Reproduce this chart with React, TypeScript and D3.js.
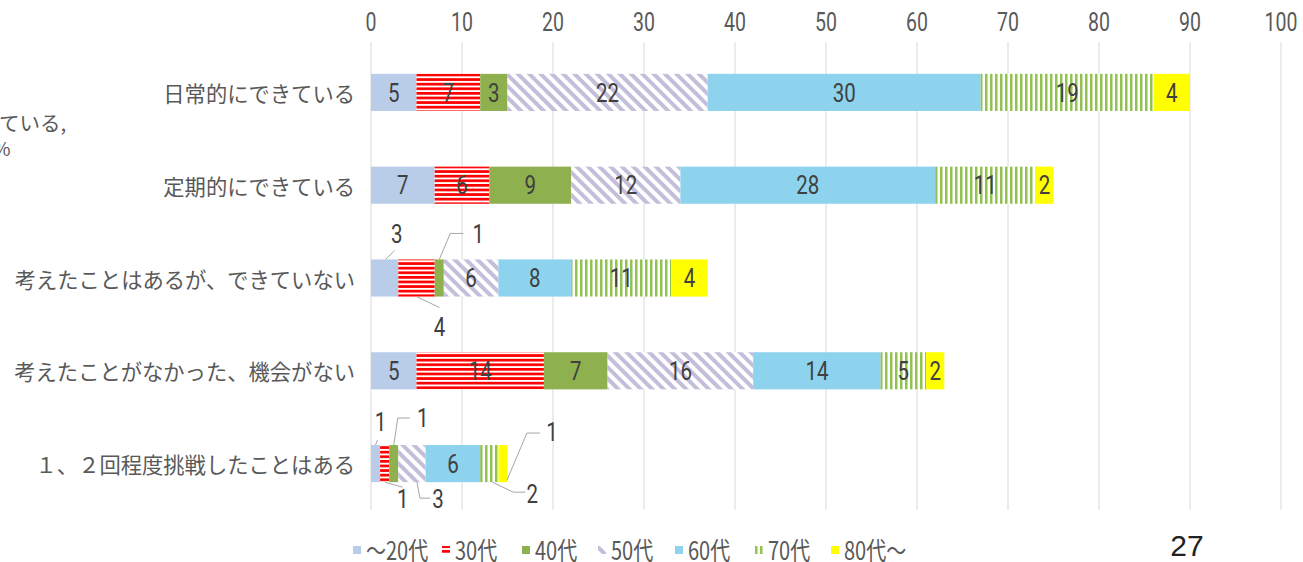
import React from "react";
import * as d3 from "d3";

const categories = [
  "日常的にできている",
  "定期的にできている",
  "考えたことはあるが、できていない",
  "考えたことがなかった、機会がない",
  "１、２回程度挑戦したことはある",
];
const seriesNames = ["～20代", "30代", "40代", "50代", "60代", "70代", "80代～"];
const age20 = [5, 7, 3, 5, 1];
const age30 = [7, 6, 4, 14, 1];
const age40 = [3, 9, 1, 7, 1];
const age50 = [22, 12, 6, 16, 3];
const age60 = [30, 28, 8, 14, 6];
const age70 = [19, 11, 11, 5, 2];
const age80 = [4, 2, 4, 2, 1];
const xTicks = [0, 10, 20, 30, 40, 50, 60, 70, 80, 90, 100];
const pageNumber = "27";

const seriesValues = [age20, age30, age40, age50, age60, age70, age80];
const fills = [
  "#B9CDE9",
  "url(#p30)",
  "#8FB04E",
  "url(#p50)",
  "#8DD3EE",
  "url(#p70)",
  "#FFFF00",
];

type Ext = { row: number; s: number; lead: [number, number, "t" | "b"][]; lx: number; ly: number; ref: "t" | "b" };
const externals: Ext[] = [
  { row: 2, s: 0, lead: [[1, 0, "t"], [10, -9, "t"]], lx: 12, ly: -25, ref: "t" },
  { row: 2, s: 2, lead: [[0, 0, "t"], [11, -26, "t"], [24, -26, "t"]], lx: 39, ly: -25, ref: "t" },
  { row: 2, s: 1, lead: [[0, 0, "b"], [23, 11, "b"]], lx: 23, ly: 31, ref: "b" },
  { row: 4, s: 0, lead: [[0, 0, "t"], [2, -5, "t"]], lx: 5, ly: -22, ref: "t" },
  { row: 4, s: 2, lead: [[0, 0, "t"], [4, -27, "t"], [16, -27, "t"]], lx: 29, ly: -26, ref: "t" },
  { row: 4, s: 1, lead: [[0, 0, "b"], [18, 5, "b"]], lx: 18, ly: 18, ref: "b" },
  { row: 4, s: 3, lead: [[5, 0, "b"], [8, 16, "b"], [18, 16, "b"]], lx: 26, ly: 18, ref: "b" },
  { row: 4, s: 5, lead: [[3, 0, "b"], [24, 10, "b"], [36, 10, "b"]], lx: 43, ly: 13, ref: "b" },
  { row: 4, s: 6, lead: [[4, -2, "b"], [24, -12, "t"], [37, -12, "t"]], lx: 49, ly: -12, ref: "t" },
];

const TXT = "#595959";
const NUMFONT = "Roboto, 'Liberation Sans', sans-serif";
const JPFONT = "'Noto Sans CJK JP', sans-serif";

function Num({ x, y, text, size = 24, sx = 0.82, fill = TXT, anchor = "middle" }: any) {
  return (
    <text
      transform={`translate(${x},${y}) scale(${sx},1)`}
      textAnchor={anchor}
      dominantBaseline="central"
      fontFamily={NUMFONT}
      fontSize={size}
      fill={fill}
    >
      {text}
    </text>
  );
}

export default function App() {
  const W = 1303;
  const H = 562;
  const x = d3.scaleLinear().domain([0, 100]).range([371, 1281]);
  const y = d3.scaleBand<string>().domain(categories).range([46, 510]).paddingInner(0.6).paddingOuter(0.3);
  const bw = y.bandwidth();

  const stacked = categories.map((c, i) => {
    let acc = 0;
    return seriesValues.map((vals, s) => {
      const v = vals[i];
      const seg = { s, v, x0: acc, x1: acc + v };
      acc += v;
      return seg;
    });
  });

  const isExt = (row: number, s: number) => externals.some((e) => e.row === row && e.s === s);

  const legendX = [353, 442, 522, 598, 675, 755, 831];

  return (
    <svg width={W} height={H} style={{ position: "absolute", left: 0, top: 0, background: "#fff" }}>
      <defs>
        <pattern id="p30" patternUnits="userSpaceOnUse" width="8" height="4.6">
          <rect width="8" height="4.6" fill="#fff" />
          <rect width="8" height="2.7" fill="#FF0000" />
        </pattern>
        <pattern id="p50" patternUnits="userSpaceOnUse" width="8" height="8" patternTransform="rotate(-45)">
          <rect width="8" height="8" fill="#fff" />
          <rect width="4" height="8" fill="#C4BEDB" />
        </pattern>
        <pattern id="p70" patternUnits="userSpaceOnUse" width="5" height="8">
          <rect width="5" height="8" fill="#fff" />
          <rect width="2.5" height="8" fill="#92C24F" />
        </pattern>
      </defs>

      <text x={-1} y={131} fontFamily={JPFONT} fontSize={20.5} fill={TXT}>
        ている,
      </text>
      <text x={-7} y={156} fontFamily={JPFONT} fontSize={19} fill={TXT}>
        %
      </text>

      {xTicks.map((t) => (
        <line key={t} x1={x(t)} x2={x(t)} y1={42} y2={510} stroke="#D9D9D9" strokeWidth={1} />
      ))}
      {xTicks.map((t) => (
        <Num key={"t" + t} x={x(t)} y={22} text={String(t)} size={25} sx={0.78} />
      ))}

      {categories.map((c) => (
        <text
          key={c}
          x={355}
          y={(y(c) as number) + bw / 2}
          textAnchor="end"
          dominantBaseline="central"
          fontFamily={JPFONT}
          fontSize={21.3}
          fill={TXT}
        >
          {c}
        </text>
      ))}

      {stacked.map((segs, i) =>
        segs.map((sg) => (
          <rect
            key={i + "-" + sg.s}
            x={x(sg.x0)}
            y={y(categories[i])}
            width={x(sg.x1) - x(sg.x0)}
            height={bw}
            fill={fills[sg.s]}
          />
        ))
      )}

      {stacked.map((segs, i) =>
        segs
          .filter((sg) => !isExt(i, sg.s))
          .map((sg) => (
            <Num
              key={"l" + i + "-" + sg.s}
              x={(x(sg.x0) + x(sg.x1)) / 2}
              y={(y(categories[i]) as number) + bw / 2 + 1}
              text={String(sg.v)}
              size={25}
              sx={0.82}
              fill="#404040"
            />
          ))
      )}

      {externals.map((e, k) => {
        const sg = stacked[e.row][e.s];
        const cx = (x(sg.x0) + x(sg.x1)) / 2;
        const top = y(categories[e.row]) as number;
        const bot = top + bw;
        const pts = e.lead.map(([dx, dy, r]) => [cx + dx, (r === "t" ? top : bot) + dy] as [number, number]);
        const path = d3.line()(pts) as string;
        const ly = (e.ref === "t" ? top : bot) + e.ly;
        return (
          <g key={"e" + k}>
            <path d={path} fill="none" stroke="#A6A6A6" strokeWidth={1} />
            <Num x={cx + e.lx} y={ly} text={String(sg.v)} size={25} sx={0.82} fill="#404040" />
          </g>
        );
      })}

      {seriesNames.map((n, s) => (
        <g key={n} transform={`translate(${legendX[s]},550)`}>
          <rect x={0} y={-4} width={8} height={8} fill={fills[s]} />
          <text
            transform="translate(13,0) scale(0.8,1)"
            dominantBaseline="central"
            fontFamily={JPFONT}
            fontSize={25}
            fill={TXT}
          >
            {n}
          </text>
        </g>
      ))}

      <text x={1187} y={545} textAnchor="middle" dominantBaseline="central" fontFamily="'Liberation Sans', Arial, sans-serif" fontSize={30} fill="#222">
        {pageNumber}
      </text>
    </svg>
  );
}
